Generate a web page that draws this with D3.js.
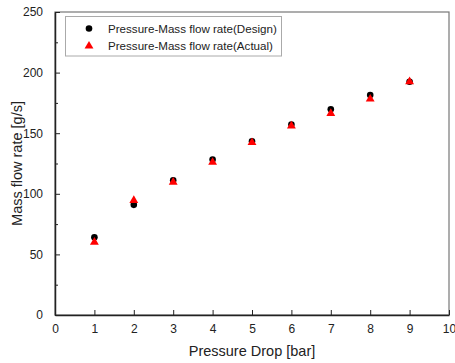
<!DOCTYPE html>
<html>
  <head>
    <meta charset="utf-8">
    <title>Pressure drop vs mass flow rate</title>
    <script src="https://d3js.org/d3.v7.min.js"></script>
    <style>
      body { margin: 0; background: #fff; }
      svg { display: block; font-family: Arial, "Liberation Sans", sans-serif; }
      .tick text { font-size: 12px; fill: #222; }
      .axis-title { font-size: 14.5px; fill: #222; }
      .legend text { font-size: 11.6px; fill: #222; }
    </style>
  </head>
  <body>
    <svg id="chart" width="455" height="363"></svg>
    <script>
      // data
      var pressure = [1, 2, 3, 4, 5, 6, 7, 8, 9];
      var designFlow = [64.2, 90.9, 111.2, 128.3, 143.3, 157.1, 169.7, 181.5, 192.5];
      var actualFlow = [60.1, 94.5, 109.6, 126.0, 142.3, 156.0, 166.4, 178.2, 192.5];
      var xTicks = [0, 1, 2, 3, 4, 5, 6, 7, 8, 9, 10];
      var yTicks = [0, 50, 100, 150, 200, 250];
      var yMinorTicks = [25, 75, 125, 175, 225];
      var seriesNames = ["Pressure-Mass flow rate(Design)", "Pressure-Mass flow rate(Actual)"];

      var margin = { top: 12, right: 6, bottom: 48, left: 55 };
      var width = 455, height = 363;
      var chart = d3.select("#chart");

      var x = d3.scaleLinear().domain([0, 10]).range([margin.left, width - margin.right]);
      var y = d3.scaleLinear().domain([0, 250]).range([height - margin.bottom, margin.top]);

      // frame: top and right in grey
      chart.append("rect")
        .attr("x", x(0)).attr("y", y(250))
        .attr("width", x(10) - x(0)).attr("height", y(0) - y(250))
        .style("fill", "none").style("stroke", "#777").style("stroke-width", 1.2);

      // minor y ticks
      chart.append("g")
        .attr("transform", "translate(" + x(0) + ",0)")
        .call(d3.axisRight(y).tickValues(yMinorTicks).tickSize(3).tickFormat(""))
        .call(function(g) { g.select(".domain").remove(); })
        .selectAll("line").style("stroke", "#222");

      // y axis, ticks inward
      var yAxisGroup = chart.append("g")
        .attr("transform", "translate(" + x(0) + ",0)")
        .call(d3.axisLeft(y).tickValues(yTicks).tickSizeInner(-5).tickSizeOuter(0).tickPadding(12));
      yAxisGroup.select(".domain").style("stroke", "#222").style("stroke-width", 1.5);
      yAxisGroup.selectAll("line").style("stroke", "#222");

      // x axis, ticks inward
      var xAxisGroup = chart.append("g")
        .attr("transform", "translate(0," + y(0) + ")")
        .call(d3.axisBottom(x).tickValues(xTicks).tickSizeInner(-5).tickSizeOuter(0).tickPadding(9));
      xAxisGroup.select(".domain").style("stroke", "#222").style("stroke-width", 1.5);
      xAxisGroup.selectAll("line").style("stroke", "#222");

      chart.selectAll(".tick text").attr("font-family", null).attr("font-size", null);

      // axis titles
      chart.append("text")
        .classed("axis-title", true)
        .attr("x", (x(0) + x(10)) / 2)
        .attr("y", 356)
        .attr("text-anchor", "middle")
        .text("Pressure Drop [bar]");
      chart.append("text")
        .classed("axis-title", true)
        .attr("transform", "translate(22," + (y(0) + y(250)) / 2 + ") rotate(-90)")
        .attr("text-anchor", "middle")
        .text("Mass flow rate [g/s]");

      // design points
      chart.append("g").selectAll("circle")
        .data(pressure)
        .enter().append("circle")
          .attr("cx", function(d) { return x(d); })
          .attr("cy", function(d, i) { return y(designFlow[i]); })
          .attr("r", 3.3)
          .style("fill", "#000");

      // actual points
      var tri = d3.symbol().type(d3.symbolTriangle).size(34);
      chart.append("g").selectAll("path")
        .data(pressure)
        .enter().append("path")
          .attr("d", tri)
          .attr("transform", function(d, i) { return "translate(" + x(d) + "," + y(actualFlow[i]) + ")"; })
          .style("fill", "#ff0000");

      // legend
      var legend = chart.append("g").classed("legend", true);
      legend.append("rect")
        .attr("x", 65.5).attr("y", 16.5)
        .attr("width", 216).attr("height", 39.5)
        .style("fill", "#fff").style("stroke", "#aaa");
      legend.append("circle")
        .attr("cx", 89).attr("cy", 28.5).attr("r", 3.3).style("fill", "#000");
      legend.append("path")
        .attr("d", tri)
        .attr("transform", "translate(89,46)")
        .style("fill", "#ff0000");
      legend.selectAll("text")
        .data(seriesNames)
        .enter().append("text")
          .attr("x", 108)
          .attr("y", function(d, i) { return 32.5 + i * 17.5; })
          .text(function(d) { return d; });
    </script>
  </body>
</html>
